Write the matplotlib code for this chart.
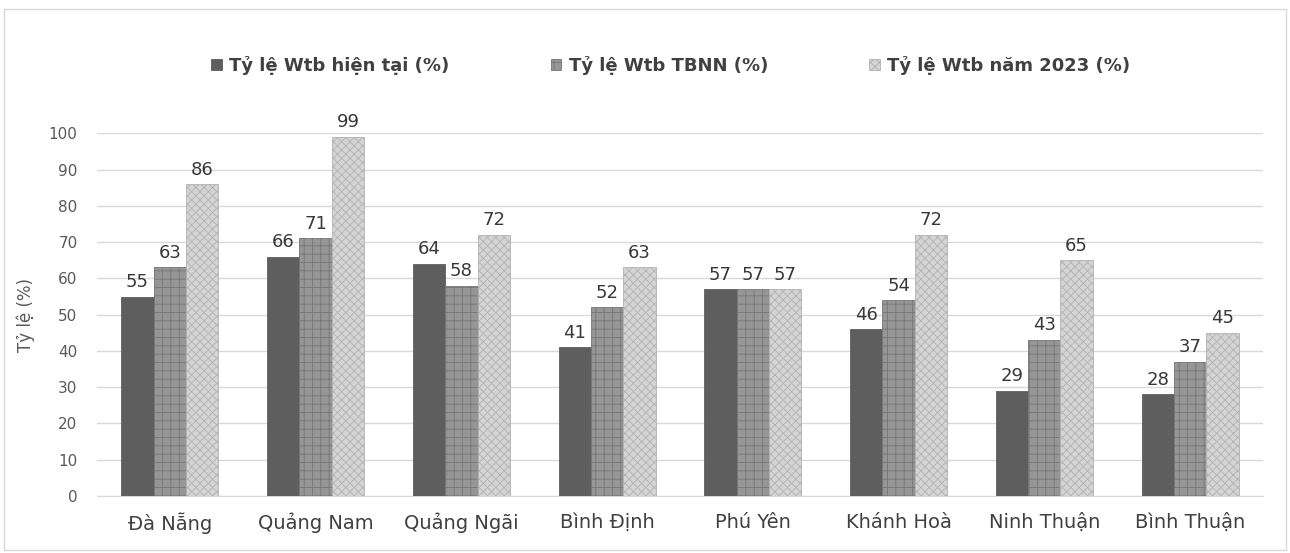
import matplotlib.pyplot as plt
import numpy as np
from matplotlib.patches import Rectangle

provinces = ["Đà Nẵng", "Quảng Nam", "Quảng Ngãi", "Bình Định",
             "Phú Yên", "Khánh Hoà", "Ninh Thuận", "Bình Thuận"]
wtb_now = [55, 66, 64, 41, 57, 46, 29, 28]
wtb_tbnn = [63, 71, 58, 52, 57, 54, 43, 37]
wtb_2023 = [86, 99, 72, 63, 57, 72, 65, 45]
series_names = ["Tỷ lệ Wtb hiện tại (%)", "Tỷ lệ Wtb TBNN (%)", "Tỷ lệ Wtb năm 2023 (%)"]

plt.rcParams['font.family'] = ['DejaVu Sans']
plt.rcParams['hatch.linewidth'] = 0.6

fig = plt.figure(figsize=(12.9, 5.53), dpi=100)
ax = fig.add_axes([0.0752, 0.103, 0.9038, 0.656])

x = np.arange(len(provinces))
w = 0.222
styles = [
    dict(color='#5e5e5e', edgecolor='#5e5e5e', hatch=None),
    dict(color='#969696', edgecolor='#767676', hatch='++'),
    dict(color='#d4d4d4', edgecolor='#b2b2b2', hatch='xxxx'),
]
handles = []
for i, vals in enumerate([wtb_now, wtb_tbnn, wtb_2023]):
    st = styles[i]
    bars = ax.bar(x + (i - 1) * w, vals, w, facecolor=st['color'],
                  edgecolor=st['edgecolor'], hatch=st['hatch'],
                  linewidth=0.6, label=series_names[i], zorder=3)
    handles.append(bars)
    for xi, v in zip(x + (i - 1) * w, vals):
        ax.annotate(str(v), (xi, v), xytext=(0, 4), textcoords='offset points',
                    ha='center', va='bottom', fontsize=13, color='#383838')

ax.set_xlim(-0.5, len(provinces) - 0.5)
ax.set_ylim(0, 100)
ax.set_yticks(np.arange(0, 101, 10))
ax.set_xticks(x)
ax.set_xticklabels(provinces, fontsize=14, color='#404040')
ax.tick_params(axis='y', labelsize=11, labelcolor='#595959', length=0, pad=14)
ax.tick_params(axis='x', length=0, pad=12)
ax.yaxis.grid(True, color='#d9d9d9', linewidth=1, zorder=0)
ax.set_axisbelow(True)
for s in ['top', 'right', 'left']:
    ax.spines[s].set_visible(False)
ax.spines['bottom'].set_color('#d9d9d9')
ax.set_ylabel("Tỷ lệ (%)", fontsize=12, color='#595959', labelpad=10)

fig.legend(handles=handles, labels=series_names, loc='center',
           bbox_to_anchor=(0.52, 0.882), ncol=3, frameon=False,
           handlelength=0.6, handleheight=0.6, handletextpad=0.4,
           columnspacing=5.6, prop={'size': 13, 'weight': 'bold'},
           labelcolor='#404040')

fig.patches.append(Rectangle((0.003, 0.006), 0.994, 0.978, transform=fig.transFigure,
                             fill=False, edgecolor='#d9d9d9', linewidth=1))

plt.savefig('out.png', dpi=100)
